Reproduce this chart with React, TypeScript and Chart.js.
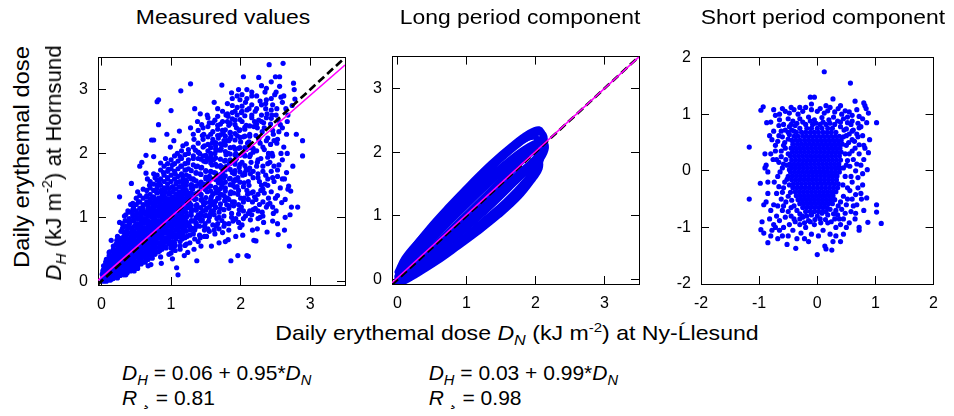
import React, { useEffect, useRef } from "react";
import { Chart, registerables } from "chart.js";

Chart.register(...registerables);

const FONT = '"Liberation Sans", Arial, Helvetica, sans-serif';
const BLUE = "#0000ff";

type Pt = [number, number];
type Col = [number, number[]];

// ---------------- axis ranges & ticks ----------------
const measuredXRange: Pt = [-0.05, 3.5];
const measuredYRange: Pt = [-0.06, 3.5];
const longXRange: Pt = [-0.08, 3.5];
const longYRange: Pt = [-0.07, 3.5];
const shortXRange: Pt = [-2, 2];
const shortYRange: Pt = [-2, 2];
const doseTicks = [0, 1, 2, 3];
const shortTicks = [-2, -1, 0, 1, 2];

// ---------------- reference / fit lines ----------------
const measuredDiag: Pt[] = [[-0.06, -0.06], [3.5, 3.5]];
const measuredFit: Pt[] = [[-0.05, 0.0125], [3.5, 3.385]];
const longDiag: Pt[] = [[-0.08, -0.08], [3.5, 3.5]];
const longFit: Pt[] = [[-0.08, -0.049], [3.5, 3.495]];

// ---------------- measured values (D_N, D_H): scattered points ----------------
const measuredPts: Pt[] = [
  [0.01,0.02],[0.02,0.06],[0.03,0.1],[0.04,0.03],[0.05,0.14],[0.06,0.07],[0.07,0.2],[0.08,0.11],[0.09,0.04],[0.02,0.16],[0.04,0.24],[0.06,0.3],[0.08,0.17],[0.1,0.08],[0.03,0.01],[0.05,0.09],[0.07,0.13],[0.09,0.26],[0.01,0.11],[0.06,0.2],[0.1,0.14],[0.04,0.19],[0.08,0.02],
  [0.11,0.06],[0.12,0.18],[0.13,0.1],[0.14,0.26],[0.15,0.04],[0.16,0.2],[0.17,0.33],[0.18,0.13],[0.19,0.27],[0.11,0.4],[0.13,0.32],[0.14,0.64],[0.11,0.45],[0.15,0.15],[0.16,0.38],[0.18,0.08],[0.19,0.21],[0.12,0.24],[0.17,0.5],[0.2,0.3],[0.15,0.28],[0.13,0.02],[0.18,0.42],
  [0.21,0.12],[0.22,0.26],[0.23,0.05],[0.24,0.36],[0.25,0.19],[0.26,0.92],[0.26,1.32],[0.27,0.3],[0.28,0.44],[0.29,0.15],[0.21,0.58],[0.22,0.4],[0.23,0.7],[0.24,0.22],[0.25,0.52],[0.27,0.1],[0.28,0.62],[0.29,0.34],[0.3,0.24],[0.22,0.33],[0.26,0.46],[0.28,0.78],[0.24,0.1],[0.3,0.52],
  [0.31,0.14],[0.32,0.3],[0.33,0.42],[0.34,0.2],[0.35,0.55],[0.36,0.36],[0.37,0.66],[0.38,0.26],[0.39,0.48],[0.31,0.85],[0.33,0.6],[0.34,0.95],[0.35,0.1],[0.36,0.74],[0.37,0.4],[0.38,1.1],[0.39,0.6],[0.4,0.33],[0.32,0.5],[0.35,0.28],[0.38,0.84],[0.4,0.18],[0.33,1.02],[0.36,0.46],
  [0.41,0.26],[0.42,0.45],[0.43,1.53],[0.44,0.58],[0.45,0.35],[0.46,0.7],[0.47,0.16],[0.48,0.52],[0.49,0.88],[0.41,0.64],[0.42,1.2],[0.43,0.38],[0.44,0.8],[0.45,1.05],[0.46,0.48],[0.47,0.96],[0.48,0.3],[0.49,0.62],[0.5,1.3],[0.41,0.92],[0.44,0.22],[0.46,1.15],[0.48,0.74],[0.5,0.42],[0.43,0.55],
  [0.51,0.56],[0.52,0.2],[0.53,0.74],[0.54,0.38],[0.55,1.8],[0.56,0.9],[0.57,0.5],[0.58,1.86],[0.59,0.66],[0.51,1.0],[0.52,0.46],[0.53,1.24],[0.54,0.82],[0.55,0.28],[0.56,0.62],[0.57,1.1],[0.58,0.42],[0.59,0.98],[0.6,0.76],[0.52,1.4],[0.55,0.58],[0.57,0.86],[0.59,0.3],[0.6,1.18],[0.54,0.66],
  [0.61,0.52],[0.62,0.94],[0.63,0.3],[0.64,1.69],[0.64,1.97],[0.65,0.7],[0.66,1.2],[0.67,0.44],[0.68,0.84],[0.69,1.5],[0.61,0.66],[0.62,1.08],[0.63,0.58],[0.65,1.32],[0.66,0.78],[0.67,0.24],[0.68,1.04],[0.69,0.62],[0.7,0.9],[0.62,0.4],[0.64,0.98],[0.66,1.6],[0.68,0.5],[0.7,1.26],[0.63,0.82],[0.67,1.14],
  [0.71,0.6],[0.72,1.02],[0.72,2.21],[0.73,0.36],[0.74,0.8],[0.75,1.95],[0.75,2.21],[0.76,1.2],[0.77,0.5],[0.78,0.9],[0.79,1.4],[0.71,1.12],[0.72,0.7],[0.73,1.3],[0.74,0.46],[0.76,0.98],[0.77,1.62],[0.78,0.62],[0.79,1.08],[0.8,0.78],[0.71,0.26],[0.74,1.18],[0.76,0.66],[0.78,1.26],[0.8,1.5],[0.73,0.88],[0.77,0.96],
  [0.81,0.7],[0.82,2.84],[0.8,2.81],[0.83,1.1],[0.84,0.48],[0.85,0.9],[0.86,1.42],[0.87,0.62],[0.88,1.0],[0.89,1.7],[0.81,1.24],[0.82,0.84],[0.83,1.55],[0.84,1.16],[0.85,0.38],[0.86,0.76],[0.87,1.3],[0.88,0.56],[0.89,1.08],[0.9,0.94],[0.82,2.45],[0.85,1.85],[0.87,1.2],[0.89,0.8],[0.84,1.02],[0.86,0.28],[0.9,1.36],
  [0.91,0.82],[0.92,1.2],[0.93,0.52],[0.94,1.46],[0.95,0.96],[0.96,1.75],[0.97,0.7],[0.98,1.1],[0.99,2.1],[0.91,1.3],[0.92,0.62],[0.93,1.02],[0.94,0.86],[0.95,1.6],[0.96,1.14],[0.97,0.42],[0.98,1.28],[0.99,0.9],[1.0,1.06],[0.92,1.92],[0.94,2.3],[0.96,0.78],[0.98,1.38],[1.0,0.58],[0.93,1.16],[0.97,1.0],
  [1.0,2.67],[1.01,0.76],[1.02,1.2],[1.03,0.5],[1.04,1.44],[1.05,0.92],[1.06,1.68],[1.07,1.1],[1.08,0.21],[1.09,1.3],[1.01,1.02],[1.02,1.82],[1.03,0.88],[1.04,1.14],[1.05,0.6],[1.06,1.27],[1.07,0.8],[1.08,1.55],[1.09,2.0],[1.1,0.1],[1.02,0.35],[1.04,2.2],[1.06,0.7],[1.08,1.08],[1.1,1.35],[1.03,0.98],[1.07,1.2],
  [1.11,0.86],[1.12,1.3],[1.13,0.55],[1.14,2.98],[1.15,1.16],[1.16,1.66],[1.17,0.95],[1.18,1.46],[1.19,0.4],[1.11,1.22],[1.12,0.76],[1.13,1.95],[1.14,1.02],[1.15,1.38],[1.16,0.66],[1.17,2.12],[1.18,1.1],[1.19,1.56],[1.2,0.8],[1.12,2.35],[1.14,1.8],[1.16,1.0],[1.18,1.26],[1.2,1.4],[1.13,1.16],[1.17,0.72],
  [1.21,1.0],[1.22,1.55],[1.23,0.7],[1.24,1.22],[1.25,2.0],[1.26,0.9],[1.27,1.38],[1.28,3.09],[1.29,1.08],[1.21,1.74],[1.22,0.58],[1.23,1.3],[1.24,0.45],[1.25,1.15],[1.26,1.64],[1.27,0.85],[1.28,2.4],[1.29,1.46],[1.3,1.12],[1.22,2.15],[1.24,1.85],[1.26,1.34],[1.28,0.8],[1.3,1.5],[1.23,1.02],[1.27,1.22],
  [1.31,0.94],[1.32,1.6],[1.33,0.5],[1.34,1.28],[1.35,2.05],[1.36,1.12],[1.37,0.32],[1.38,1.8],[1.39,1.04],[1.31,1.44],[1.32,0.74],[1.33,2.22],[1.34,1.36],[1.35,0.84],[1.36,1.7],[1.37,1.2],[1.38,2.5],[1.39,0.62],[1.4,1.52],[1.32,1.92],[1.34,2.7],[1.36,0.9],[1.38,1.16],[1.4,1.4],[1.33,1.58],[1.37,1.0],
  [1.41,1.0],[1.42,1.68],[1.43,0.55],[1.44,1.28],[1.45,2.28],[1.46,1.1],[1.47,1.88],[1.48,0.8],[1.49,1.44],[1.41,2.0],[1.42,0.68],[1.43,1.36],[1.44,2.45],[1.45,0.96],[1.46,1.52],[1.47,1.2],[1.48,2.12],[1.49,0.9],[1.5,1.6],[1.42,2.62],[1.44,1.78],[1.46,1.24],[1.48,1.48],[1.5,1.72],[1.43,1.05],[1.47,2.3],
  [1.51,0.7],[1.52,1.4],[1.53,2.04],[1.54,0.94],[1.55,1.64],[1.56,1.24],[1.57,2.3],[1.58,0.55],[1.59,1.82],[1.51,1.14],[1.52,1.92],[1.53,0.82],[1.54,1.48],[1.55,2.48],[1.56,1.04],[1.57,1.72],[1.58,1.32],[1.59,2.16],[1.6,0.88],[1.52,2.6],[1.54,1.56],[1.56,1.9],[1.58,1.1],[1.6,1.36],[1.53,1.6],[1.57,2.0],
  [1.61,1.1],[1.62,1.7],[1.63,0.74],[1.64,2.12],[1.65,1.38],[1.66,0.98],[1.67,2.38],[1.68,1.54],[1.69,0.6],[1.61,1.9],[1.62,1.2],[1.63,2.52],[1.64,1.46],[1.65,0.86],[1.66,1.8],[1.67,1.3],[1.68,2.24],[1.69,1.0],[1.7,1.62],[1.62,2.8],[1.64,1.16],[1.66,2.05],[1.68,1.42],[1.7,1.66],[1.63,2.0],[1.67,0.9],
  [1.71,1.14],[1.72,1.78],[1.73,3.07],[1.74,0.76],[1.75,1.54],[1.76,2.2],[1.77,1.26],[1.78,0.62],[1.79,1.98],[1.71,2.46],[1.72,1.36],[1.73,0.95],[1.74,1.7],[1.75,2.32],[1.76,1.02],[1.77,1.88],[1.78,1.46],[1.79,2.6],[1.8,1.2],[1.72,2.08],[1.74,2.14],[1.76,1.62],[1.78,1.74],[1.8,2.2],[1.73,1.5],[1.77,0.9],
  [1.81,1.3],[1.82,2.0],[1.83,0.8],[1.84,1.6],[1.85,2.32],[1.86,0.32],[1.87,1.06],[1.88,2.75],[1.89,1.5],[1.81,1.8],[1.82,0.65],[1.83,2.44],[1.84,1.18],[1.85,1.9],[1.86,1.4],[1.87,2.95],[1.88,1.7],[1.89,0.94],[1.9,2.1],[1.82,2.58],[1.84,1.84],[1.86,2.26],[1.88,1.24],[1.9,1.56],[1.83,2.2],[1.87,1.0],
  [1.91,1.24],[1.92,1.88],[1.93,0.7],[1.94,2.4],[1.95,1.48],[1.96,0.4],[1.97,2.08],[1.98,1.12],[1.99,2.84],[1.91,1.68],[1.92,2.52],[1.93,0.98],[1.94,1.58],[1.95,2.28],[1.96,1.36],[1.97,3.0],[1.98,1.78],[1.99,0.84],[2.0,2.18],[1.92,2.66],[1.94,1.92],[1.96,1.62],[1.98,2.36],[2.0,1.3],[1.93,2.0],[1.97,1.05],
  [2.01,1.16],[2.02,1.86],[2.03,0.72],[2.04,3.2],[2.05,1.54],[2.06,2.38],[2.07,1.02],[2.08,2.06],[2.09,1.42],[2.01,2.64],[2.02,0.88],[2.03,1.66],[2.04,2.26],[2.05,1.3],[2.06,1.96],[2.07,2.8],[2.08,1.76],[2.09,0.4],[2.1,2.16],[2.02,2.5],[2.04,1.1],[2.06,1.7],[2.08,2.44],[2.1,1.36],[2.03,2.0],
  [2.11,0.39],[2.12,1.5],[2.13,2.3],[2.14,0.96],[2.15,1.86],[2.16,2.56],[2.17,1.24],[2.18,2.08],[2.19,0.64],[2.11,1.74],[2.12,2.7],[2.13,1.1],[2.14,1.98],[2.15,1.38],[2.16,2.9],[2.17,0.8],[2.18,1.62],[2.19,2.42],[2.2,1.32],[2.12,2.18],[2.14,1.68],[2.16,1.04],[2.18,2.02],[2.2,2.5],
  [2.21,1.14],[2.22,0.63],[2.23,1.8],[2.24,2.4],[2.25,0.98],[2.26,3.19],[2.27,1.56],[2.28,2.16],[2.29,1.42],[2.21,2.66],[2.22,1.28],[2.23,2.04],[2.24,0.82],[2.25,1.68],[2.26,2.52],[2.27,1.2],[2.28,2.82],[2.29,1.92],[2.3,1.5],[2.22,2.28],[2.24,1.86],[2.26,2.22],[2.28,1.0],[2.3,2.6],
  [2.31,1.08],[2.32,1.8],[2.33,2.48],[2.34,1.38],[2.35,2.96],[2.36,1.66],[2.37,2.2],[2.38,0.77],[2.39,1.94],[2.31,2.34],[2.32,1.24],[2.33,0.92],[2.34,2.06],[2.35,1.52],[2.36,2.78],[2.37,1.16],[2.38,2.62],[2.39,1.6],[2.4,2.0],[2.34,2.4],[2.36,2.7],[2.4,1.3],
  [2.41,3.39],[2.42,1.22],[2.43,2.14],[2.44,1.72],[2.45,2.6],[2.46,0.94],[2.47,2.3],[2.48,1.56],[2.49,2.92],[2.42,1.86],[2.43,2.46],[2.44,1.4],[2.45,2.0],[2.46,2.76],[2.47,1.06],[2.48,2.2],[2.5,3.2],[2.44,2.55],[2.48,1.8],[2.5,1.3],
  [2.51,1.1],[2.52,2.7],[2.53,1.64],[2.54,0.73],[2.55,2.34],[2.56,3.2],[2.57,1.46],[2.58,2.88],[2.59,1.23],[2.52,2.16],[2.53,0.9],[2.54,2.52],[2.55,1.82],[2.56,3.05],[2.58,2.0],[2.6,1.6],[2.57,2.45],[2.6,2.8],
  [2.61,3.41],[2.62,2.1],[2.63,0.8],[2.64,1.28],[2.65,2.7],[2.66,1.7],[2.67,2.5],[2.68,1.44],[2.69,1.49],[2.62,2.9],[2.64,1.0],[2.66,2.3],[2.68,2.6],[2.7,0.55],[2.63,1.6],[2.67,2.0],
  [2.71,1.04],[2.72,1.41],[2.74,2.75],[2.76,3.1],[2.78,2.85],[2.75,1.8],[2.8,2.3],[2.82,1.16],[2.89,1.96],[2.89,2.2],[2.73,1.16],[2.77,3.0]
];

// dense band of measured values along the diagonal: [D_N, list of D_H]
const measuredCoreCols: Col[] = [
  [0.03, [0.0, 0.05, 0.12, 0.18, 0.24]],
  [0.07, [0.0, 0.06, 0.1, 0.16, 0.22, 0.28, 0.34]],
  [0.12, [0.02, 0.09, 0.15, 0.21, 0.27, 0.33, 0.39, 0.46]],
  [0.17, [0.04, 0.1, 0.16, 0.23, 0.29, 0.35, 0.41, 0.48, 0.55]],
  [0.22, [0.06, 0.13, 0.19, 0.25, 0.31, 0.37, 0.44, 0.5, 0.57, 0.64]],
  [0.27, [0.09, 0.15, 0.21, 0.28, 0.34, 0.4, 0.47, 0.53, 0.6, 0.67]],
  [0.32, [0.1, 0.17, 0.24, 0.3, 0.36, 0.43, 0.5, 0.56, 0.63, 0.7, 0.77]],
  [0.37, [0.13, 0.2, 0.27, 0.33, 0.39, 0.46, 0.52, 0.59, 0.66, 0.73, 0.8]],
  [0.42, [0.16, 0.22, 0.29, 0.36, 0.42, 0.49, 0.55, 0.62, 0.69, 0.76, 0.84]],
  [0.47, [0.2, 0.26, 0.33, 0.4, 0.46, 0.52, 0.59, 0.66, 0.72, 0.79, 0.86, 0.94]],
  [0.52, [0.24, 0.3, 0.37, 0.43, 0.5, 0.56, 0.63, 0.7, 0.76, 0.83, 0.9, 0.98]],
  [0.57, [0.27, 0.34, 0.4, 0.47, 0.54, 0.6, 0.67, 0.74, 0.8, 0.87, 0.94, 1.02]],
  [0.62, [0.3, 0.37, 0.44, 0.51, 0.58, 0.64, 0.71, 0.78, 0.84, 0.91, 0.98, 1.06]],
  [0.67, [0.34, 0.41, 0.48, 0.55, 0.62, 0.68, 0.75, 0.82, 0.88, 0.95, 1.02, 1.1, 1.18]],
  [0.72, [0.38, 0.45, 0.52, 0.59, 0.66, 0.72, 0.79, 0.86, 0.93, 1.0, 1.07, 1.14, 1.22]],
  [0.77, [0.42, 0.49, 0.56, 0.63, 0.7, 0.77, 0.84, 0.9, 0.97, 1.04, 1.11, 1.18, 1.26]],
  [0.82, [0.46, 0.53, 0.6, 0.67, 0.74, 0.81, 0.88, 0.95, 1.02, 1.09, 1.16, 1.23, 1.3]],
  [0.87, [0.5, 0.57, 0.64, 0.71, 0.78, 0.85, 0.92, 0.99, 1.06, 1.13, 1.2, 1.27, 1.34]],
  [0.92, [0.54, 0.61, 0.68, 0.75, 0.82, 0.89, 0.96, 1.03, 1.1, 1.17, 1.24, 1.31, 1.4]],
  [0.97, [0.58, 0.65, 0.72, 0.79, 0.86, 0.93, 1.0, 1.07, 1.14, 1.21, 1.28, 1.36, 1.45]],
  [1.02, [0.62, 0.69, 0.76, 0.83, 0.9, 0.97, 1.04, 1.11, 1.18, 1.25, 1.32, 1.4, 1.48]],
  [1.07, [0.66, 0.73, 0.8, 0.87, 0.94, 1.01, 1.08, 1.15, 1.22, 1.29, 1.36, 1.44, 1.52]],
  [1.12, [0.7, 0.77, 0.84, 0.91, 0.98, 1.05, 1.12, 1.19, 1.26, 1.33, 1.4, 1.48, 1.56]],
  [1.17, [0.74, 0.81, 0.88, 0.95, 1.02, 1.09, 1.16, 1.23, 1.3, 1.37, 1.44, 1.52, 1.6]],
  [1.22, [0.78, 0.86, 0.93, 1.0, 1.07, 1.14, 1.21, 1.28, 1.35, 1.42, 1.5, 1.58, 1.66]],
  [1.29, [0.83, 0.95, 1.03, 1.13, 1.19, 1.31, 1.38, 1.51, 1.6, 1.73]],
  [1.36, [0.91, 0.99, 1.11, 1.18, 1.29, 1.37, 1.49, 1.57, 1.69, 1.79]],
  [1.43, [0.94, 1.07, 1.15, 1.27, 1.35, 1.47, 1.55, 1.67, 1.77, 1.91]],
  [1.5, [1.03, 1.11, 1.23, 1.31, 1.43, 1.51, 1.63, 1.73, 1.87, 1.97]],
  [1.57, [1.07, 1.19, 1.29, 1.41, 1.49, 1.61, 1.71, 1.85, 1.95, 2.09]],
  [1.64, [1.15, 1.25, 1.39, 1.47, 1.59, 1.69, 1.83, 1.93, 2.07, 2.17]],
  [1.71, [1.21, 1.35, 1.45, 1.57, 1.67, 1.81, 1.91, 2.05, 2.15, 2.29]],
  [1.78, [1.31, 1.41, 1.55, 1.65, 1.79, 1.89, 2.03, 2.13, 2.27, 2.37]],
  [1.85, [1.37, 1.51, 1.61, 1.75, 1.85, 1.99, 2.09, 2.23, 2.33, 2.47]],
  [1.92, [1.47, 1.59, 1.73, 1.83, 1.97, 2.07, 2.21, 2.31, 2.45]],
  [1.99, [1.55, 1.71, 1.83, 1.97, 2.09, 2.25, 2.37, 2.53]],
  [2.06, [1.67, 1.81, 1.97, 2.09, 2.27, 2.41, 2.59]],
  [2.13, [1.77, 1.95, 2.09, 2.27, 2.43]]
];

// upper side of the measured cloud (D_H > D_N)
const measuredUpperCols: Col[] = [
  [0.3, [0.82, 0.9]],
  [0.35, [0.86, 0.94, 1.04]],
  [0.4, [0.9, 0.98, 1.08]],
  [0.45, [0.95, 1.02, 1.12, 1.22]],
  [0.5, [1.04, 1.1, 1.2]],
  [0.55, [1.06, 1.14, 1.24, 1.34]],
  [0.6, [1.12, 1.2, 1.3, 1.44]],
  [0.65, [1.24, 1.34, 1.42]],
  [0.7, [1.28, 1.36, 1.46, 1.56]],
  [0.75, [1.32, 1.42, 1.52, 1.68]],
  [0.8, [1.38, 1.46, 1.58, 1.66]],
  [0.85, [1.4, 1.5, 1.6, 1.74]],
  [0.9, [1.46, 1.56, 1.66, 1.8]],
  [0.95, [1.52, 1.62, 1.72, 1.84]],
  [1.0, [1.56, 1.66, 1.76, 1.9]],
  [1.05, [1.6, 1.72, 1.84, 1.96]],
  [1.1, [1.64, 1.76, 1.88]],
  [1.15, [1.68, 1.8, 1.92, 2.04]],
  [1.2, [1.74, 1.84, 1.98]],
  [1.25, [1.76, 1.9, 2.06]],
  [1.32, [1.82, 1.96, 2.1, 2.3]],
  [1.39, [1.92, 2.02, 2.16, 2.36]],
  [1.46, [1.96, 2.1, 2.22, 2.4]],
  [1.53, [2.14, 2.26, 2.42, 2.56]],
  [1.6, [2.22, 2.34, 2.48]],
  [1.67, [2.28, 2.44, 2.58, 2.7]],
  [1.74, [2.36, 2.5, 2.66]],
  [1.81, [2.5, 2.62, 2.78]],
  [1.88, [2.54, 2.64, 2.86]],
  [1.95, [2.6, 2.72, 2.9]],
  [2.02, [2.66, 2.74, 2.92]],
  [2.09, [2.68, 2.86, 3.0]],
  [2.16, [2.6, 2.76, 2.96]],
  [2.23, [2.46, 2.7, 2.9]],
  [2.3, [2.5, 2.76, 3.06]],
  [2.37, [2.56, 2.84, 3.02]],
  [2.44, [2.68, 2.86, 3.12]],
  [2.51, [2.6, 2.96]]
];

// lower side of the measured cloud (D_H < D_N)
const measuredLowerCols: Col[] = [
  [1.0, [0.44, 0.52]],
  [1.06, [0.48, 0.56]],
  [1.13, [0.5, 0.62]],
  [1.2, [0.56, 0.68]],
  [1.27, [0.6, 0.72]],
  [1.34, [0.66, 0.8, 0.95]],
  [1.41, [0.72, 0.86, 0.98]],
  [1.48, [0.7, 0.86, 1.02]],
  [1.55, [0.78, 1.0, 1.16]],
  [1.62, [0.8, 1.04, 1.24]],
  [1.69, [0.82, 1.08, 1.3]],
  [1.76, [0.86, 1.12, 1.34]],
  [1.83, [0.9, 1.14, 1.28]],
  [1.9, [0.96, 1.18, 1.38]],
  [1.97, [0.92, 1.2, 1.42]],
  [2.04, [0.98, 1.24, 1.48]],
  [2.11, [1.06, 1.28, 1.56]],
  [2.18, [1.12, 1.4, 1.72]],
  [2.25, [1.1, 1.36, 1.62, 1.9]],
  [2.32, [1.02, 1.44, 1.72, 2.1]],
  [2.39, [1.2, 1.5, 1.84, 2.24]],
  [2.46, [1.16, 1.62, 1.96, 2.36]],
  [2.53, [1.34, 1.74, 2.22]],
  [2.6, [1.9, 2.4]]
];

// ---------------- long period component: yearly loops ----------------
const longLoop1: Pt[] = [[0,0.04],[0.06,0.22],[0.2,0.46],[0.45,0.8],[0.75,1.16],[1.05,1.5],[1.35,1.82],[1.65,2.1],[1.9,2.3],[2.05,2.36],[2.1,2.26],[2.02,2.08],[1.78,1.84],[1.48,1.54],[1.18,1.22],[0.88,0.9],[0.58,0.58],[0.3,0.28],[0.1,0.07],[0,0.03]];
const longLoop2: Pt[] = [[0,0.06],[0.08,0.24],[0.25,0.5],[0.55,0.86],[0.85,1.2],[1.15,1.52],[1.45,1.84],[1.75,2.12],[1.98,2.28],[2.1,2.3],[2.13,2.14],[2.04,1.96],[1.82,1.72],[1.52,1.38],[1.22,1.06],[0.92,0.76],[0.62,0.48],[0.32,0.2],[0.1,0.02],[0.01,-0.01]];
const longLoop3: Pt[] = [[0.02,0.05],[0.14,0.28],[0.38,0.6],[0.68,0.94],[0.98,1.26],[1.28,1.56],[1.58,1.84],[1.88,2.08],[2.1,2.18],[2.15,2.06],[2.06,1.86],[1.86,1.56],[1.56,1.22],[1.26,0.94],[0.96,0.66],[0.66,0.4],[0.36,0.16],[0.12,0.0],[0.02,-0.03]];
const longLoop4: Pt[] = [[0,0.01],[0.14,0.2],[0.4,0.5],[0.7,0.84],[1.0,1.16],[1.3,1.48],[1.6,1.76],[1.86,1.98],[2.04,2.04],[2.08,1.9],[2.0,1.7],[1.78,1.4],[1.48,1.08],[1.18,0.8],[0.88,0.54],[0.58,0.32],[0.3,0.12],[0.1,-0.02],[0,-0.04]];
const longLoop5: Pt[] = [[0.02,0.0],[0.2,0.15],[0.45,0.38],[0.75,0.66],[1.05,0.96],[1.35,1.26],[1.65,1.56],[1.9,1.8],[2.05,1.86],[2.06,1.74],[1.98,1.6],[1.76,1.3],[1.46,1.0],[1.16,0.74],[0.86,0.5],[0.56,0.27],[0.28,0.08],[0.1,-0.03],[0,-0.05]];
const longLoop6: Pt[] = [[0,0.12],[0.1,0.34],[0.3,0.6],[0.6,0.94],[0.9,1.28],[1.2,1.6],[1.5,1.92],[1.78,2.16],[1.98,2.24],[2.04,2.14],[1.92,1.98],[1.66,1.7],[1.36,1.36],[1.06,1.04],[0.76,0.7],[0.46,0.4],[0.2,0.14],[0.05,0.05]];
const longLoop7: Pt[] = [[0.01,0.02],[0.16,0.24],[0.42,0.56],[0.72,0.9],[1.02,1.2],[1.32,1.5],[1.62,1.8],[1.9,2.02],[2.08,2.06],[2.1,1.96],[1.96,1.8],[1.7,1.52],[1.4,1.2],[1.1,0.9],[0.8,0.62],[0.5,0.36],[0.22,0.12],[0.05,0.0]];
const longLoops: Pt[][] = [longLoop1, longLoop2, longLoop3, longLoop4, longLoop5, longLoop6, longLoop7];

// ---------------- short period component ----------------
const shortCorePts: Pt[] = [
  [-0.2,0.82],[-0.08,0.82],[0.05,0.82],[0.15,0.82],
  [-0.3,0.75],[-0.18,0.75],[-0.1,0.75],[0.0,0.75],[0.08,0.75],[0.18,0.75],[0.26,0.75],
  [-0.36,0.68],[-0.27,0.68],[-0.2,0.68],[-0.12,0.68],[-0.05,0.68],[0.02,0.68],[0.1,0.68],[0.17,0.68],[0.24,0.68],[0.32,0.68],
  [-0.4,0.61],[-0.33,0.61],[-0.25,0.61],[-0.18,0.61],[-0.11,0.61],[-0.04,0.61],[0.03,0.61],[0.1,0.61],[0.17,0.61],[0.24,0.61],[0.31,0.61],[0.38,0.61],
  [-0.44,0.54],[-0.37,0.54],[-0.3,0.54],[-0.22,0.54],[-0.15,0.54],[-0.08,0.54],[-0.01,0.54],[0.06,0.54],[0.13,0.54],[0.2,0.54],[0.27,0.54],[0.34,0.54],[0.41,0.54],
  [-0.42,0.47],[-0.34,0.47],[-0.27,0.47],[-0.2,0.47],[-0.13,0.47],[-0.06,0.47],[0.01,0.47],[0.08,0.47],[0.15,0.47],[0.22,0.47],[0.29,0.47],[0.36,0.47],[0.43,0.47],
  [-0.45,0.4],[-0.38,0.4],[-0.31,0.4],[-0.24,0.4],[-0.17,0.4],[-0.1,0.4],[-0.03,0.4],[0.04,0.4],[0.11,0.4],[0.18,0.4],[0.25,0.4],[0.32,0.4],[0.39,0.4],
  [-0.43,0.33],[-0.36,0.33],[-0.29,0.33],[-0.22,0.33],[-0.15,0.33],[-0.08,0.33],[-0.01,0.33],[0.06,0.33],[0.13,0.33],[0.2,0.33],[0.27,0.33],[0.34,0.33],[0.41,0.33],
  [-0.46,0.26],[-0.39,0.26],[-0.32,0.26],[-0.25,0.26],[-0.18,0.26],[-0.11,0.26],[-0.04,0.26],[0.03,0.26],[0.1,0.26],[0.17,0.26],[0.24,0.26],[0.31,0.26],[0.38,0.26],
  [-0.44,0.19],[-0.37,0.19],[-0.3,0.19],[-0.23,0.19],[-0.16,0.19],[-0.09,0.19],[-0.02,0.19],[0.05,0.19],[0.12,0.19],[0.19,0.19],[0.26,0.19],[0.33,0.19],[0.4,0.19],
  [-0.47,0.12],[-0.4,0.12],[-0.33,0.12],[-0.26,0.12],[-0.19,0.12],[-0.12,0.12],[-0.05,0.12],[0.02,0.12],[0.09,0.12],[0.16,0.12],[0.23,0.12],[0.3,0.12],[0.37,0.12],
  [-0.45,0.05],[-0.38,0.05],[-0.31,0.05],[-0.24,0.05],[-0.17,0.05],[-0.1,0.05],[-0.03,0.05],[0.04,0.05],[0.11,0.05],[0.18,0.05],[0.25,0.05],[0.32,0.05],[0.39,0.05],
  [-0.46,-0.02],[-0.39,-0.02],[-0.32,-0.02],[-0.25,-0.02],[-0.18,-0.02],[-0.11,-0.02],[-0.04,-0.02],[0.03,-0.02],[0.1,-0.02],[0.17,-0.02],[0.24,-0.02],[0.31,-0.02],[0.38,-0.02],
  [-0.43,-0.09],[-0.36,-0.09],[-0.29,-0.09],[-0.22,-0.09],[-0.15,-0.09],[-0.08,-0.09],[-0.01,-0.09],[0.06,-0.09],[0.13,-0.09],[0.2,-0.09],[0.27,-0.09],[0.34,-0.09],
  [-0.44,-0.16],[-0.37,-0.16],[-0.3,-0.16],[-0.23,-0.16],[-0.16,-0.16],[-0.09,-0.16],[-0.02,-0.16],[0.05,-0.16],[0.12,-0.16],[0.19,-0.16],[0.26,-0.16],[0.33,-0.16],
  [-0.41,-0.23],[-0.34,-0.23],[-0.27,-0.23],[-0.2,-0.23],[-0.13,-0.23],[-0.06,-0.23],[0.01,-0.23],[0.08,-0.23],[0.15,-0.23],[0.22,-0.23],[0.29,-0.23],[0.36,-0.23],
  [-0.42,-0.3],[-0.35,-0.3],[-0.28,-0.3],[-0.21,-0.3],[-0.14,-0.3],[-0.07,-0.3],[0.0,-0.3],[0.07,-0.3],[0.14,-0.3],[0.21,-0.3],[0.28,-0.3],[0.35,-0.3],
  [-0.38,-0.37],[-0.31,-0.37],[-0.24,-0.37],[-0.17,-0.37],[-0.1,-0.37],[-0.03,-0.37],[0.04,-0.37],[0.11,-0.37],[0.18,-0.37],[0.25,-0.37],[0.32,-0.37],
  [-0.36,-0.44],[-0.29,-0.44],[-0.22,-0.44],[-0.15,-0.44],[-0.08,-0.44],[-0.01,-0.44],[0.06,-0.44],[0.13,-0.44],[0.2,-0.44],[0.27,-0.44],
  [-0.33,-0.51],[-0.26,-0.51],[-0.19,-0.51],[-0.12,-0.51],[-0.05,-0.51],[0.02,-0.51],[0.09,-0.51],[0.16,-0.51],[0.23,-0.51],[0.3,-0.51],
  [-0.3,-0.58],[-0.23,-0.58],[-0.16,-0.58],[-0.09,-0.58],[-0.02,-0.58],[0.05,-0.58],[0.12,-0.58],[0.19,-0.58],[0.26,-0.58],
  [-0.25,-0.65],[-0.18,-0.65],[-0.11,-0.65],[-0.04,-0.65],[0.03,-0.65],[0.1,-0.65],[0.17,-0.65],
  [-0.2,-0.72],[-0.12,-0.72],[-0.05,-0.72],[0.02,-0.72],[0.09,-0.72]
];
const shortOuterPts: Pt[] = [
  [-0.97,1.07],[-0.93,1.13],[-0.05,1.3],[-0.12,1.3],[0.27,1.27],[0.65,1.23],[0.8,1.2],[0.82,1.15],[0.84,1.1],[0.88,1.02],[0.12,1.75],[0.57,1.55],
  [-0.75,1.08],[-0.72,0.98],[-0.6,1.1],[-0.55,1.05],[-0.48,1.02],[-0.4,1.08],[-0.33,1.0],[-0.25,1.05],[-0.2,1.12],[-0.1,1.08],[0.0,1.05],[0.05,1.1],[0.12,1.02],[0.18,1.06],[0.22,1.12],[0.3,1.04],[0.36,1.1],[0.42,1.0],[0.48,1.06],[0.55,1.04],[0.6,0.98],[0.68,1.08],[0.72,0.96],[0.78,0.92],[0.85,0.85],
  [-0.8,0.86],[-0.65,0.9],[-0.5,0.92],[-0.42,0.88],[-0.3,0.92],[-0.15,0.95],[-0.05,0.9],[0.08,0.94],[0.2,0.9],[0.28,0.95],[0.35,0.88],[0.45,0.92],[0.52,0.85],[0.6,0.88],[0.7,0.84],[0.75,0.78],
  [-0.58,0.82],[-0.48,0.78],[-0.38,0.8],[0.4,0.78],[0.5,0.74],[0.62,0.72],[0.68,0.65],
  [-1.17,0.42],[-1.17,-0.5],[-0.98,-0.22],[-0.87,0.85],[-0.9,0.05],[-0.88,0.1],[-0.85,-0.02],[-0.8,0.3],[-0.78,0.55],[-0.75,0.7],[-0.72,0.45],[-0.7,0.2],[-0.68,-0.1],[-0.66,0.62],[-0.62,0.35],[-0.6,0.05],[-0.58,-0.3],[-0.56,0.5],[-0.54,0.2],[-0.52,-0.15],[-0.5,0.68],[-0.5,-0.45],[-0.48,0.02],[-0.55,0.4],
  [-0.62,-0.5],[-0.7,-0.4],[-0.75,-0.6],[-0.8,-0.7],[-0.85,-0.4],[-0.88,-0.55],[-0.92,-0.6],[-0.95,-0.9],[-0.97,-1.04],[-0.92,-1.1],[-0.85,-1.27],[-0.8,-1.15],[-0.75,-0.95],[-0.72,-1.0],[-0.7,-0.8],[-0.65,-0.88],[-0.65,-1.05],[-0.6,-0.7],[-0.58,-1.0],[-0.55,-0.82],[-0.52,-1.3],[-0.5,-1.15],[-0.48,-0.95],[-0.45,-0.65],[-0.42,-1.05],[-0.4,-0.85],[-0.37,-1.37],[-0.35,-1.2],[-0.3,-0.95],[-0.28,-1.1],[-0.25,-0.8],[-0.2,-1.0],[-0.15,-0.88],[-0.1,-1.12],[-0.05,-0.95],
  [0.0,-1.48],[0.02,-1.15],[0.05,-0.85],[0.1,-1.05],[0.13,-1.33],[0.15,-1.38],[0.18,-0.92],[0.22,-1.12],[0.25,-1.4],[0.27,-1.25],[0.3,-0.85],[0.32,-1.0],[0.32,-1.15],[0.35,-0.78],[0.4,-0.95],[0.42,-0.68],[0.45,-0.85],[0.5,-0.6],[0.55,-0.92],[0.58,-0.72],[0.6,-0.5],[0.65,-0.85],[0.68,-0.6],[0.72,-1.05],[0.72,-1.0],[0.75,-0.4],[0.8,-0.7],[0.87,-0.91],[1.02,-0.6],[1.02,-0.73],[1.1,-0.93],[0.85,-0.48],[0.78,-0.25],
  [0.45,0.6],[0.5,0.45],[0.55,0.3],[0.5,0.1],[0.48,-0.1],[0.52,-0.3],[0.45,-0.45],[0.6,0.55],[0.65,0.4],[0.62,0.2],[0.66,0.0],[0.6,-0.2],[0.7,-0.3],[0.72,0.3],[0.75,0.1],[0.8,0.45],[0.82,0.4],[0.88,0.32],[0.86,0.02],[0.7,0.6],[0.78,0.62],[0.9,0.55],[0.72,0.76],[1.02,0.85],[0.58,0.82],[0.55,0.65],[0.48,0.3],[0.52,0.18],[0.45,0.05],[0.44,-0.25],[0.4,-0.55],[0.36,-0.62],[0.32,-0.7],[0.28,-0.76],[0.22,-0.68],[0.18,-0.78],
  [-0.5,0.3],[-0.52,0.1],[-0.5,-0.1],[-0.48,-0.25],[-0.46,-0.38],[-0.44,-0.52],[-0.4,-0.62],[-0.35,-0.7],[-0.3,-0.76],[-0.25,-0.82],[-0.18,-0.8],[-0.1,-0.78],[0.0,-0.8],[0.08,-0.75],[0.15,-0.72],[-0.5,0.56],[-0.48,0.64],[-0.44,0.72],[-0.4,0.7],[-0.62,0.7],[-0.66,0.8],
  [-0.55,0.72],[-0.6,0.6],[-0.58,0.45],[-0.62,0.25],[-0.58,0.12],[-0.64,-0.02],[-0.56,-0.2],[-0.6,-0.38],[-0.54,-0.55],[-0.5,-0.72],[-0.45,-0.8],[-0.38,-0.9],[-0.3,-0.85],[-0.22,-0.92],[-0.12,-0.9],[-0.04,-0.86],[0.06,-0.92],[0.14,-0.86],[0.24,-0.9],[0.38,-0.85],[0.48,-0.75],[0.52,-0.5],[0.56,-0.35],[0.58,-0.1],[0.56,0.08],[0.6,0.35],[0.54,0.5],[0.5,0.62],[0.46,0.72],[0.4,0.86],[0.3,0.82],[0.22,0.84],[0.1,0.86],[-0.02,0.84],[-0.12,0.88],[-0.25,0.86],[-0.35,0.84],[-0.45,0.82],
  [-0.68,0.52],[-0.72,0.35],[-0.66,0.15],[-0.74,-0.2],[-0.66,-0.28],[-0.68,-0.62],[-0.58,-0.62],[0.62,-0.62],[0.66,-0.42],[0.7,-0.12],[0.68,0.12],[0.64,0.52],[0.6,0.7],[0.52,0.95],[0.4,1.15],[0.15,1.15],[-0.1,1.18],[-0.3,1.12],[-0.45,1.12],[-0.65,1.0],[0.72,0.46],[0.8,0.2],[0.78,-0.05],[0.76,-0.5],[0.66,-0.75],[0.5,-1.0],[0.45,-1.12],[0.4,-1.25],[-0.15,-1.25],[-0.22,-1.2],[-0.6,-1.15],[-0.68,-1.2],[-0.78,-1.05],[-0.82,-0.85],[-0.85,-0.2],[-0.82,0.62],[-0.76,0.2],[-0.9,0.3]
];

// ---------------- helpers ----------------
const toXY = (pts: Pt[]) => pts.map(([x, y]) => ({ x, y }));
const colsToPts = (cols: Col[]): Pt[] => {
  const out: Pt[] = [];
  cols.forEach(([x, ys]) => ys.forEach((y) => out.push([x, y])));
  return out;
};

const AXW = 45;
const AXH = 35;
const PADT = 12;
const PADR = 8;

function scaleCfg(range: Pt, vals: number[], pos: string, labels: boolean) {
  const vertical = pos === "left" || pos === "right";
  return {
    type: "linear",
    position: pos,
    min: range[0],
    max: range[1],
    afterBuildTicks: (axis: any) => {
      axis.ticks = vals.map((v) => ({ value: v }));
    },
    afterFit: (s: any) => {
      if (vertical) s.width = labels ? AXW : 0;
      else s.height = labels ? AXH : 0;
    },
    grid: {
      drawOnChartArea: false,
      drawTicks: true,
      tickLength: -8,
      color: "#000",
      tickColor: "#000",
      lineWidth: 1,
    },
    border: { display: true, color: "#000", width: 1 },
    ticks: {
      display: labels,
      color: "#000",
      font: { family: FONT, size: 16 },
      padding: 18,
      autoSkip: false,
      maxRotation: 0,
      callback: (v: any) => String(v),
    },
  };
}

function Panel(props: any) {
  const { left, top, w, h, xr, yr, xt, yt, datasets } = props;
  const ref = useRef<HTMLCanvasElement>(null);
  useEffect(() => {
    const chart = new Chart(ref.current as HTMLCanvasElement, {
      type: "scatter",
      data: { datasets },
      options: {
        responsive: false,
        animation: false,
        devicePixelRatio: 1,
        events: [],
        layout: { padding: { top: PADT, right: PADR, left: 0, bottom: 0 } },
        plugins: {
          legend: { display: false },
          tooltip: { enabled: false },
          title: { display: false },
        },
        scales: {
          x: scaleCfg(xr, xt, "bottom", true),
          y: scaleCfg(yr, yt, "left", true),
          x2: scaleCfg(xr, xt, "top", false),
          y2: scaleCfg(yr, yt, "right", false),
        },
      } as any,
    } as any);
    return () => chart.destroy();
  }, []);
  return (
    <canvas
      ref={ref}
      width={AXW + w + PADR}
      height={PADT + h + AXH}
      style={{ position: "absolute", left: left - AXW, top: top - PADT }}
    />
  );
}

const lineDs = (pts: Pt[], color: string, width: number, dash: number[]) => ({
  data: toXY(pts),
  showLine: true,
  borderColor: color,
  borderWidth: width,
  borderDash: dash,
  pointRadius: 0,
  clip: 0,
});

const pointDs = (pts: Pt[]) => ({
  data: toXY(pts),
  showLine: false,
  pointRadius: 2.6,
  pointBackgroundColor: BLUE,
  pointBorderWidth: 0,
  backgroundColor: BLUE,
  borderWidth: 0,
});

const loopDs = (pts: Pt[]) => ({
  data: toXY(pts),
  showLine: true,
  borderColor: "#0000ee",
  borderWidth: 6,
  tension: 0.4,
  pointRadius: 0,
  borderCapStyle: "round",
  borderJoinStyle: "round",
});

const Sub = ({ children }: any) => (
  <span style={{ fontSize: "0.7em", position: "relative", top: "0.35em" }}>{children}</span>
);
const Sup = ({ children }: any) => (
  <span style={{ fontSize: "0.65em", position: "relative", top: "-0.6em" }}>{children}</span>
);

const baseText: any = {
  position: "absolute",
  fontFamily: FONT,
  lineHeight: 1,
  whiteSpace: "nowrap",
  color: "#000",
};

export default function App() {
  const measuredSets = [
    lineDs(measuredFit, "#ff00ff", 1.5, []),
    lineDs(measuredDiag, "#000", 2.7, [8, 4]),
    pointDs(measuredPts),
    pointDs(colsToPts(measuredCoreCols)),
    pointDs(colsToPts(measuredUpperCols)),
    pointDs(colsToPts(measuredLowerCols)),
  ];
  const longSets = [
    lineDs(longFit, "#ff00ff", 1.5, []),
    lineDs(longDiag, "#000", 2.7, [8, 4]),
    ...longLoops.map(loopDs),
  ];
  const shortSets = [pointDs(shortOuterPts), pointDs(shortCorePts)];

  const title = (text: string, cx: number) => (
    <div
      style={{
        ...baseText,
        fontSize: 21,
        left: cx,
        top: 5.5,
        transform: "translateX(-50%) scaleX(1.09)",
      }}
    >
      {text}
    </div>
  );

  return (
    <div
      style={{
        position: "absolute",
        left: 0,
        top: 0,
        width: 954,
        height: 416,
        overflow: "hidden",
        background: "#fff",
      }}
    >
      <Panel left={98} top={42} w={247} h={243} xr={measuredXRange} yr={measuredYRange} xt={doseTicks} yt={doseTicks} datasets={measuredSets} />
      <Panel left={392} top={41} w={247} h={243} xr={longXRange} yr={longYRange} xt={doseTicks} yt={doseTicks} datasets={longSets} />
      <Panel left={701} top={42} w={247} h={242} xr={shortXRange} yr={shortYRange} xt={shortTicks} yt={shortTicks} datasets={shortSets} />

      {title("Measured values", 223)}
      {title("Long period component", 520)}
      {title("Short period component", 823)}

      <div
        style={{
          ...baseText,
          fontSize: 22,
          left: 21.7,
          top: 156.7,
          transform: "translate(-50%,-50%) rotate(-90deg) scaleX(1.08)",
        }}
      >
        Daily erythemal dose
      </div>
      <div
        style={{
          ...baseText,
          fontSize: 22,
          left: 54.1,
          top: 163.3,
          transform: "translate(-50%,-50%) rotate(-90deg) scaleX(1.01)",
        }}
      >
        <i>D</i>
        <Sub>
          <i>H</i>
        </Sub>{" "}
        (kJ m<Sup>-2</Sup>) at Hornsund
      </div>

      <div
        style={{
          ...baseText,
          fontSize: 21,
          left: 516.5,
          top: 322.2,
          transform: "translateX(-50%) scaleX(1.1)",
        }}
      >
        Daily erythemal dose <i>D</i>
        <Sub>
          <i>N</i>
        </Sub>{" "}
        (kJ m<Sup>-2</Sup>) at Ny-Ĺlesund
      </div>

      <div style={{ ...baseText, fontSize: 21, left: 122, top: 361.5 }}>
        <i>D</i>
        <Sub>
          <i>H</i>
        </Sub>{" "}
        = 0.06 + 0.95*<i>D</i>
        <Sub>
          <i>N</i>
        </Sub>
      </div>
      <div style={{ ...baseText, fontSize: 21, left: 122, top: 386.5 }}>
        <i>R</i> ¸ = 0.81
      </div>
      <div style={{ ...baseText, fontSize: 21, left: 428.7, top: 361.5 }}>
        <i>D</i>
        <Sub>
          <i>H</i>
        </Sub>{" "}
        = 0.03 + 0.99*<i>D</i>
        <Sub>
          <i>N</i>
        </Sub>
      </div>
      <div style={{ ...baseText, fontSize: 21, left: 428.7, top: 386.5 }}>
        <i>R</i> ¸ = 0.98
      </div>
    </div>
  );
}
